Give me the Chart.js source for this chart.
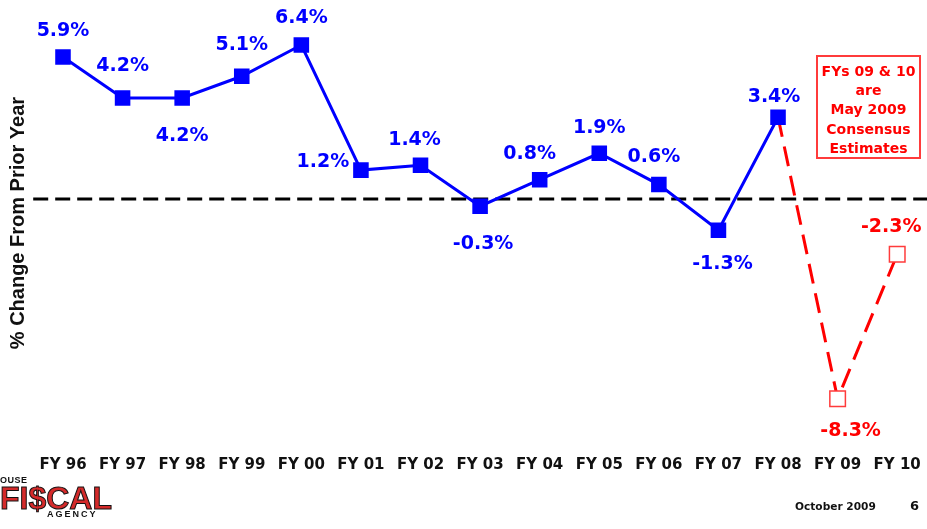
<!DOCTYPE html>
<html>
<head>
<meta charset="utf-8">
<script src="https://cdn.jsdelivr.net/npm/chart.js@4"></script>
<style>
  body { margin: 0; background: #fff; }
  #wrap { position: relative; width: 927px; height: 529px; overflow: hidden; }
  #note {
    position: absolute; left: 816px; top: 55px; width: 101px; height: 95px;
    border: 2px solid #ff3b3b; color: #ff0000; text-align: center;
    font: bold 14px "DejaVu Sans", sans-serif; line-height: 19.2px; padding-top: 5px;
  }
  .foot { position: absolute; font-family: "DejaVu Sans", sans-serif; font-weight: bold; color: #111; }
  .logo { position: absolute; font-family: "Liberation Sans", Arial, sans-serif; font-weight: bold; }
</style>
</head>
<body>
<div id="wrap">
  <canvas id="growthChart" width="927" height="529"></canvas>
  <div id="note">FYs 09 &amp; 10<br>are<br>May 2009<br>Consensus<br>Estimates</div>
  <div class="foot" style="left:795px; top:500px; font-size:10.6px;">October 2009</div>
  <div class="foot" style="left:910px; top:498px; font-size:13px;">6</div>
  <div class="logo" style="left:0; top:475px; font-size:9px; color:#111; letter-spacing:0.5px;">OUSE</div>
  <div class="logo" style="left:0; top:480px; font-size:32px; color:#d42a2a; -webkit-text-stroke:1px #111;">FI$CAL</div>
  <div class="logo" style="left:47px; top:509px; font-size:9px; color:#111; letter-spacing:2px;">AGENCY</div>
</div>
<script>
const years = ['FY 96', 'FY 97', 'FY 98', 'FY 99', 'FY 00', 'FY 01', 'FY 02', 'FY 03',
               'FY 04', 'FY 05', 'FY 06', 'FY 07', 'FY 08', 'FY 09', 'FY 10'];
// actual growth, % change from prior year
const actualPct = [5.9, 4.2, 4.2, 5.1, 6.4, 1.2, 1.4, -0.3, 0.8, 1.9, 0.6, -1.3, 3.4, null, null];
// May 2009 consensus estimates (joined to FY 08 actual)
const estimatePct = [null, null, null, null, null, null, null, null, null, null, null, null, 3.4, -8.3, -2.3];

// where each value label sits relative to its marker (px)
const labelDx = [0, 0, 0, 0, 0, -38, -6, 3, -10, 0, -5, 4, -4, 13, -6];
const labelDy = [-26, -32, 38, -31, -27, -8, -25, 38, -26, -25, -27, 34, -20, 32, -27];

const BLUE = '#0000ff';
const RED = '#ff0000';

// dashed black line at zero
const zeroLine = {
    id: 'zeroLine',
    beforeDatasetsDraw(chart) {
        const { ctx, chartArea, scales } = chart;
        const y = scales.y.getPixelForValue(0);
        ctx.save();
        ctx.strokeStyle = '#000';
        ctx.lineWidth = 3;
        ctx.setLineDash([15, 7]);
        ctx.beginPath();
        ctx.moveTo(chartArea.left, y);
        ctx.lineTo(chartArea.right, y);
        ctx.stroke();
        ctx.restore();
    }
};

const valueLabels = {
    id: 'valueLabels',
    afterDatasetsDraw(chart) {
        const { ctx, scales } = chart;
        ctx.save();
        ctx.font = 'bold 19px "DejaVu Sans", sans-serif';
        ctx.textAlign = 'center';
        ctx.textBaseline = 'middle';
        years.forEach((yr, i) => {
            const isActual = actualPct[i] !== null;
            const v = isActual ? actualPct[i] : estimatePct[i];
            if (v === null) return;
            const x = scales.x.getPixelForValue(i) + labelDx[i];
            const y = scales.y.getPixelForValue(v) + labelDy[i];
            ctx.fillStyle = isActual ? BLUE : RED;
            ctx.fillText(v.toFixed(1) + '%', x, y);
        });
        ctx.restore();
    }
};

const chart = new Chart(document.getElementById('growthChart').getContext('2d'), {
    type: 'line',
    data: {
        labels: years,
        datasets: [{
            label: 'Actual',
            data: actualPct,
            borderColor: BLUE,
            borderWidth: 3,
            pointStyle: 'rect',
            pointRadius: 11,
            pointBackgroundColor: BLUE,
            pointBorderColor: BLUE,
            pointBorderWidth: 0,
            tension: 0,
            order: 1
        }, {
            label: 'Consensus estimate',
            data: estimatePct,
            borderColor: RED,
            borderWidth: 3,
            borderDash: [20, 10],
            pointStyle: 'rect',
            pointRadius: (c) => actualPct[c.dataIndex] === null ? 11 : 0,
            pointBackgroundColor: '#fff',
            pointBorderColor: '#ff3b3b',
            pointBorderWidth: 1.5,
            tension: 0,
            order: 2
        }]
    },
    options: {
        responsive: false,
        animation: false,
        layout: { autoPadding: false, padding: { left: 2.4, right: 0, top: 6.5, bottom: 54.4 } },
        plugins: {
            legend: { display: false },
            tooltip: { enabled: false }
        },
        scales: {
            x: {
                offset: true,
                grid: { display: false, drawTicks: false },
                border: { display: false },
                ticks: {
                    color: '#111',
                    padding: 17,
                    font: { family: '"DejaVu Sans", sans-serif', size: 15, weight: 'bold' }
                },
                afterFit(scale) {
                    scale.height = 35;
                    scale.paddingLeft = 0;
                    scale.paddingRight = 0;
                }
            },
            y: {
                min: -10,
                max: 8,
                grid: { display: false, drawTicks: false },
                border: { display: false },
                ticks: { display: false },
                title: {
                    display: true,
                    text: '% Change From Prior Year',
                    color: '#111',
                    font: { family: '"Liberation Sans", Arial, sans-serif', size: 20, weight: 'bold' }
                },
                afterFit(scale) {
                    scale.width = 30.8;
                    scale.paddingTop = 0;
                    scale.paddingBottom = 0;
                }
            }
        }
    },
    plugins: [zeroLine, valueLabels]
});
</script>
</body>
</html>
